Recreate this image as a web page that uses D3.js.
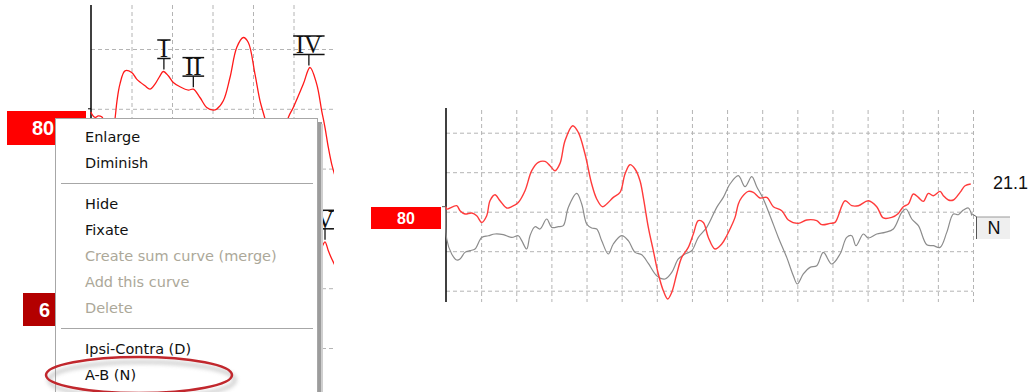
<!DOCTYPE html>
<html>
<head>
<meta charset="utf-8">
<script src="https://cdn.jsdelivr.net/npm/d3@7"></script>
<style>
body { margin: 0; background: #fff; }
svg { display: block; }
.grid line { stroke: #b4b4b4; stroke-dasharray: 4,3; }
.grid .domain { display: none; }
</style>
</head>
<body>
<script>
// left panel: 80 dB curve (time in ms, amplitude in grid units)
var leftCurve = [[0,-0.05],[0.017,-0.084],[0.099,-0.145],[0.18,-0.117],[0.264,-0.134],[0.296,-0.167],[0.4,-0.5],[0.5,-0.6],
  [0.593,-0.167],[0.642,0.134],[0.716,0.418],[0.84,0.635],[1.005,0.607],[1.128,0.497],[1.333,0.385],[1.457,0.329],[1.58,0.413],
  [1.704,0.552],[1.785,0.624],[1.909,0.552],[2.032,0.44],[2.198,0.368],[2.402,0.313],[2.526,0.329],[2.69,0.189],[2.857,0.022],
  [3.02,-0.022],[3.104,-0.005],[3.267,0.134],[3.432,0.523],[3.598,1.025],[3.76,1.192],[3.884,1.109],[4.049,0.58],[4.173,0.134],
  [4.296,-0.167],[4.45,-0.6],[4.6,-0.75],[4.75,-0.55],[4.872,-0.145],[4.995,0.022],[5.242,0.413],[5.407,0.691],[5.573,0.413],
  [5.696,-0.033],[5.778,-0.313],[5.86,-0.647],[5.943,-0.925],[6.025,-1.12]];
// part of the next curve that shows right of the menu
var leftLowCurve = [[5.6,-2.46],[5.704,-2.308],[5.778,-2.224],[5.86,-2.375],[5.943,-2.508],[6.025,-2.62]];

// wave markers
var peakLabels = ["I", "II", "IV", "V"];
var peakTimes  = [1.8, 2.526, 5.38, 5.778];
var peakValues = [0.624, 0.329, 0.691, -2.224];

// right panel: red and grey curves (A-B)
var redCurve = [[0.0,0.127],[0.02,0.068],[0.305,0.152],[0.399,0.025],[0.541,-0.058],[0.732,-0.033],[0.874,-0.101],[1.016,-0.271],
  [1.159,-0.101],[1.252,0.278],[1.395,0.43],[1.537,0.278],[1.728,0.094],[1.87,0.127],[2.058,0.235],[2.249,0.532],[2.44,1.038],
  [2.627,1.248],[2.818,1.273],[2.96,1.165],[3.103,1.038],[3.245,1.223],[3.387,1.797],[3.607,2.177],[3.766,2.008],[3.957,1.461],
  [4.147,0.701],[4.29,0.322],[4.449,0.127],[4.574,0.195],[4.762,0.362],[4.953,0.489],[5.095,0.954],[5.238,1.19],[5.38,1.081],
  [5.522,0.785],[5.616,0.362],[5.759,-0.397],[5.901,-0.987],[6.043,-1.577],[6.186,-2.0],[6.311,-2.21],[6.425,-2.043],[6.567,-1.577],
  [6.709,-1.157],[6.897,-0.904],[7.04,-0.565],[7.182,-0.228],[7.324,-0.271],[7.467,-0.651],[7.657,-0.944],[7.848,-0.818],
  [7.99,-0.608],[8.084,-0.438],[8.227,-0.144],[8.321,0.195],[8.418,0.362],[8.605,0.514],[8.748,0.489],[8.938,0.347],[9.129,0.362],
  [9.317,0.127],[9.556,0.025],[9.744,-0.21],[10.029,-0.296],[10.268,-0.21],[10.552,-0.228],[10.695,-0.329],[10.931,-0.296],
  [11.073,-0.271],[11.358,0.278],[11.549,0.152],[11.737,0.152],[12.021,0.278],[12.26,0.127],[12.448,-0.159],[12.687,-0.144],
  [12.875,-0.043],[13.017,0.127],[13.16,0.195],[13.302,0.448],[13.445,0.362],[13.587,0.261],[13.729,0.463],[13.871,0.405],
  [14.062,0.514],[14.156,0.405],[14.299,0.296],[14.441,0.296],[14.632,0.489],[14.774,0.658],[14.936,0.701]];
var grayCurve = [[0.0,0.127],[0.02,-0.691],[0.162,-1.071],[0.305,-1.223],[0.399,-1.197],[0.541,-1.03],[0.683,-0.987],[0.826,-0.944],
  [1.016,-0.651],[1.204,-0.608],[1.395,-0.565],[1.631,-0.582],[1.87,-0.651],[2.058,-0.608],[2.155,-0.734],[2.297,-0.944],
  [2.391,-0.608],[2.533,-0.38],[2.676,-0.438],[2.866,-0.185],[3.009,-0.397],[3.197,-0.38],[3.339,-0.354],[3.481,0.109],[3.72,0.463],
  [3.863,0.195],[4.005,-0.311],[4.147,-0.413],[4.29,-0.438],[4.432,-0.734],[4.62,-1.071],[4.762,-0.818],[5.001,-0.608],[5.189,-0.734],
  [5.38,-1.03],[5.571,-1.089],[5.759,-1.309],[5.998,-1.62],[6.234,-1.704],[6.425,-1.537],[6.613,-1.197],[6.803,-1.071],[6.994,-0.987],
  [7.182,-0.651],[7.421,-0.397],[7.706,0.109],[7.893,0.362],[8.084,0.701],[8.321,0.911],[8.511,0.633],[8.702,0.886],[8.844,0.633],
  [9.032,0.322],[9.223,-0.101],[9.459,-0.651],[9.698,-1.157],[9.886,-1.62],[10.0,-1.83],[10.171,-1.577],[10.362,-1.41],[10.552,-1.367],
  [10.74,-1.03],[10.979,-1.324],[11.216,-1.071],[11.406,-0.651],[11.549,-0.608],[11.671,-0.861],[11.879,-0.565],[12.021,-0.666],
  [12.26,-0.565],[12.496,-0.524],[12.733,-0.438],[12.972,-0.018],[13.094,0.068],[13.257,-0.185],[13.445,-0.354],[13.684,-0.835],
  [13.871,-0.861],[14.062,-0.904],[14.253,-0.524],[14.441,-0.058],[14.583,-0.076],[14.726,0.043],[14.868,0.094],[14.965,-0.101]];

var leftXTicks  = [1, 2, 3, 4, 5, 6];
var leftYTicks  = [-4, -3, -2, -1, 0, 1];
var rightXTicks = d3.range(1, 16);
var rightYTicks = [-2, -1, 0, 1, 2];

var intensity = "80", lowIntensity = "6", curveValue = "21.1", curveTag = "N";

var menuItems = ["Enlarge", "Diminish", "-", "Hide", "Fixate", "Create sum curve (merge)", "Add this curve", "Delete", "-", "Ipsi-Contra (D)", "A-B (N)"];
var disabledItems = ["Create sum curve (merge)", "Add this curve", "Delete"];
var highlighted = "A-B (N)";

var width = 1030, height = 392;
var svg = d3.select("body").append("svg")
  .attr("width", width)
  .attr("height", height);

var defs = svg.append("defs");
defs.append("clipPath").attr("id", "clipL")
  .append("rect").attr("x", 0).attr("y", 0).attr("width", 334).attr("height", height);
var blur = defs.append("filter").attr("id", "soft").attr("x", "-20%").attr("y", "-50%").attr("width", "140%").attr("height", "200%");
blur.append("feGaussianBlur").attr("stdDeviation", 2);

// scales
var xL = d3.scaleLinear().domain([0, 6]).range([91, 334]);
var yL = d3.scaleLinear().domain([-4, 1]).range([348, 49]);
var xR = d3.scaleLinear().domain([0, 15]).range([446, 973]);
var yR = d3.scaleLinear().domain([-2, 2]).range([290.7, 132.7]);

//-------- left panel --------
var left = svg.append("g").attr("clip-path", "url(#clipL)");

left.append("g").attr("class", "grid")
  .attr("transform", "translate(0,5)")
  .call(d3.axisBottom(xL).tickValues(leftXTicks).tickSize(height).tickFormat(""));
left.append("g").attr("class", "grid")
  .attr("transform", "translate(" + xL(0) + ",0)")
  .call(d3.axisRight(yL).tickValues(leftYTicks).tickSize(xL(6) - xL(0)).tickFormat(""));

left.append("line")
  .attr("x1", xL(0)).attr("x2", xL(0)).attr("y1", 5).attr("y2", height)
  .attr("stroke", "#000").attr("stroke-width", 1.5);
left.append("line")
  .attr("x1", xL(0) - 3).attr("x2", xL(0)).attr("y1", yL(0)).attr("y2", yL(0))
  .attr("stroke", "#000");

var lineL = d3.line()
  .x(function(d) { return xL(d[0]); })
  .y(function(d) { return yL(d[1]); })
  .curve(d3.curveCatmullRom);

left.append("path").datum(leftCurve)
  .attr("d", lineL).attr("fill", "none").attr("stroke", "#ff1a1a").attr("stroke-width", 1.3);
left.append("path").datum(leftLowCurve)
  .attr("d", lineL).attr("fill", "none").attr("stroke", "#ff1a1a").attr("stroke-width", 1.3);

// wave labels with bars and a short tick down to the peak
var marks = left.selectAll(".peak")
  .data(peakLabels)
  .enter().append("g")
  .attr("class", "peak")
  .attr("transform", function(d, i) { return "translate(" + xL(peakTimes[i]) + "," + yL(peakValues[i]) + ")"; });

marks.append("line")
  .attr("x1", 0).attr("x2", 0).attr("y1", -13).attr("y2", -2)
  .attr("stroke", "#000").attr("stroke-width", 1.2);
marks.append("text")
  .attr("x", 0).attr("y", -14)
  .attr("text-anchor", "middle")
  .style("font-family", "'Liberation Serif', serif")
  .style("font-size", "25px")
  .style("fill", "#111")
  .text(function(d) { return d; });
marks.each(function() {
  var g = d3.select(this);
  var w = g.select("text").node().getComputedTextLength() + 5;
  [-13, -31.5].forEach(function(y) {
    g.append("line")
      .attr("x1", -w / 2).attr("x2", w / 2).attr("y1", y).attr("y2", y)
      .attr("stroke", "#111").attr("stroke-width", 1.5);
  });
});

// intensity tags on the left
svg.append("rect").attr("x", 7).attr("y", 111).attr("width", 79).attr("height", 34).attr("fill", "#ff0000");
svg.append("text").attr("x", 32).attr("y", 135)
  .style("font-family", "'Liberation Sans', Arial, sans-serif").style("font-weight", "bold").style("font-size", "20px")
  .style("fill", "#fff").text(intensity);
svg.append("rect").attr("x", 23).attr("y", 293).attr("width", 40).attr("height", 33).attr("fill", "#b30000");
svg.append("text").attr("x", 39).attr("y", 317)
  .style("font-family", "'Liberation Sans', Arial, sans-serif").style("font-weight", "bold").style("font-size", "20px")
  .style("fill", "#fff").text(lowIntensity);

//-------- context menu --------
var menu = svg.append("g").attr("transform", "translate(55,118)");
menu.append("rect").attr("x", 263).attr("y", 4).attr("width", 4).attr("height", 280).attr("fill", "#9c9c9c");
menu.append("rect").attr("x", 266).attr("y", 6).attr("width", 2).attr("height", 280).attr("fill", "#cfcfcf");
menu.append("rect").attr("x", 0.5).attr("y", 0.5).attr("width", 262).attr("height", 290)
  .attr("fill", "#fff").attr("stroke", "#a7a7a7");

var yPos = 19;
menuItems.forEach(function(item) {
  if (item === "-") {
    var sy = yPos - 13 + 7.5;
    menu.append("line").attr("x1", 6).attr("x2", 258).attr("y1", sy).attr("y2", sy)
      .attr("stroke", "#a7a7a7").attr("stroke-width", 1.2);
    yPos += 15;
    return;
  }
  menu.append("text")
    .attr("x", 30).attr("y", yPos + 5)
    .style("font-family", "'DejaVu Sans', Tahoma, sans-serif")
    .style("font-size", "14.5px")
    .style("fill", disabledItems.indexOf(item) >= 0 ? "#aca899" : "#111")
    .text(item);
  if (item === highlighted) {
    menu.append("ellipse").attr("cx", 85).attr("cy", yPos + 2).attr("rx", 93).attr("ry", 18)
      .attr("fill", "none").attr("stroke", "#999").attr("stroke-width", 3).attr("opacity", 0.6)
      .attr("transform", "translate(2,3)").attr("filter", "url(#soft)");
    menu.append("ellipse").attr("cx", 84).attr("cy", yPos).attr("rx", 93).attr("ry", 18)
      .attr("fill", "none").attr("stroke", "#c1272d").attr("stroke-width", 2.5);
  }
  yPos += 26;
});

//-------- right panel --------
var right = svg.append("g");
right.append("g").attr("class", "grid")
  .attr("transform", "translate(0,110)")
  .call(d3.axisBottom(xR).tickValues(rightXTicks).tickSize(192).tickFormat(""));
right.append("g").attr("class", "grid")
  .attr("transform", "translate(" + xR(0) + ",0)")
  .call(d3.axisRight(yR).tickValues(rightYTicks).tickSize(xR(15) - xR(0)).tickFormat(""));

right.append("line")
  .attr("x1", xR(0)).attr("x2", xR(0)).attr("y1", 108).attr("y2", 302)
  .attr("stroke", "#000").attr("stroke-width", 1.5);
right.append("line")
  .attr("x1", xR(0) - 4).attr("x2", xR(0)).attr("y1", yR(0.127)).attr("y2", yR(0.127))
  .attr("stroke", "#555");

var lineR = d3.line()
  .x(function(d) { return xR(d[0]); })
  .y(function(d) { return yR(d[1]); })
  .curve(d3.curveCatmullRom);

right.append("path").datum(grayCurve)
  .attr("d", lineR).attr("fill", "none").attr("stroke", "#8c8c8c").attr("stroke-width", 1.2);
right.append("path").datum(redCurve)
  .attr("d", lineR).attr("fill", "none").attr("stroke", "#ff3b3b").attr("stroke-width", 1.4);

// tag at the start
right.append("rect").attr("x", 371).attr("y", 207).attr("width", 70).attr("height", 22).attr("fill", "#ff0000");
right.append("text").attr("x", 406).attr("y", 224).attr("text-anchor", "middle")
  .style("font-family", "'Liberation Sans', Arial, sans-serif").style("font-weight", "bold").style("font-size", "16px")
  .style("fill", "#fff").text(intensity);

// value and N box at the end
var last = redCurve[redCurve.length - 1];
right.append("text").attr("x", 993).attr("y", yR(last[1]) + 5)
  .style("font-family", "'Liberation Sans', Arial, sans-serif").style("font-size", "18px")
  .style("fill", "#111").text(curveValue);

var gEnd = grayCurve[grayCurve.length - 1];
right.append("line")
  .attr("x1", xR(gEnd[0])).attr("y1", yR(gEnd[1]) - 2).attr("x2", 977).attr("y2", 217)
  .attr("stroke", "#666");
right.append("rect").attr("x", 976).attr("y", 217).attr("width", 34).attr("height", 22).attr("fill", "#efefef");
right.append("line").attr("x1", 976).attr("x2", 1010).attr("y1", 217).attr("y2", 217).attr("stroke", "#9a9a9a");
right.append("line").attr("x1", 976.5).attr("x2", 976.5).attr("y1", 217).attr("y2", 239).attr("stroke", "#555");
right.append("text").attr("x", 994).attr("y", 234).attr("text-anchor", "middle")
  .style("font-family", "'Liberation Sans', Arial, sans-serif").style("font-size", "18px")
  .style("fill", "#111").text(curveTag);
</script>
</body>
</html>
